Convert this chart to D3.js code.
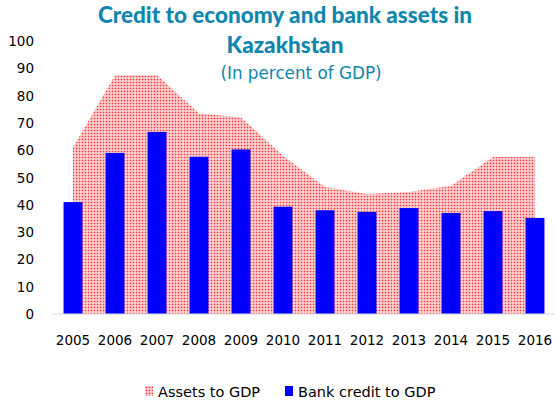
<!DOCTYPE html>
<html lang="en">
<head>
<meta charset="UTF-8">
<title>Credit to economy and bank assets in Kazakhstan</title>
<script src="https://d3js.org/d3.v7.min.js"></script>
<style>
  body { margin: 0; background: #fff; }
  text { font-family: "DejaVu Sans", Verdana, sans-serif; }
</style>
</head>
<body>
<svg width="555" height="404"></svg>
<script>
var years = ["2005","2006","2007","2008","2009","2010","2011","2012","2013","2014","2015","2016"];
var assets = [61, 87.5, 87.5, 73.5, 72, 58, 46.5, 44, 44.7, 47, 57.5, 57.5];
var credit = [41, 59, 66.7, 57.6, 60.3, 39.3, 38, 37.4, 38.8, 37, 37.7, 35.2];
var yTicks = [0,10,20,30,40,50,60,70,80,90,100];

var svg = d3.select("svg");

var x = d3.scaleBand().domain(years).range([52, 556]).paddingInner(0.55).paddingOuter(0.275);
var y = d3.scaleLinear().domain([0, 100]).range([314, 41]);

// dotted pattern for assets area
var defs = svg.append("defs");
var pat = defs.append("pattern")
    .attr("id", "dots")
    .attr("patternUnits", "userSpaceOnUse")
    .attr("width", 3).attr("height", 3);
pat.append("rect").attr("width", 3).attr("height", 3).attr("fill", "#ffdede");
pat.append("rect").attr("x", 0.7).attr("y", 0.7).attr("width", 1.6).attr("height", 1.6).attr("fill", "#ff3333");

var cx = function(d, i) { return x(years[i]) + x.bandwidth() / 2; };

var area = d3.area()
    .x(cx)
    .y0(y(0))
    .y1(function(d) { return y(d); });

svg.append("path")
    .datum(assets)
    .attr("d", area)
    .attr("fill", "url(#dots)");

svg.selectAll(".bar")
    .data(credit)
    .enter()
    .append("rect")
    .attr("class", "bar")
    .attr("x", function(d, i) { return x(years[i]); })
    .attr("y", function(d) { return y(d); })
    .attr("width", x.bandwidth())
    .attr("height", function(d) { return y(0) - y(d); })
    .attr("fill", "#0000ff");

// axis line
svg.append("line")
    .attr("x1", 52).attr("x2", 555)
    .attr("y1", y(0)).attr("y2", y(0))
    .attr("stroke", "#d9d9d9").attr("stroke-width", 1);

// y tick labels
svg.selectAll(".ytick")
    .data(yTicks)
    .enter()
    .append("text")
    .attr("x", 34)
    .attr("y", function(d) { return y(d) + 5; })
    .attr("text-anchor", "end")
    .attr("font-size", 13.5)
    .attr("fill", "#000")
    .text(function(d) { return d; });

// x labels
svg.selectAll(".xtick")
    .data(years)
    .enter()
    .append("text")
    .attr("x", function(d) { return x(d) + x.bandwidth() / 2; })
    .attr("y", 345)
    .attr("text-anchor", "middle")
    .attr("font-size", 13.5)
    .attr("fill", "#000")
    .text(function(d) { return d; });

// titles
var titleFont = "Lato, 'Open Sans', sans-serif";
svg.append("text")
    .attr("x", 285).attr("y", 23)
    .attr("text-anchor", "middle")
    .style("font-family", titleFont)
    .attr("font-size", 22.5).attr("font-weight", 900)
    .attr("fill", "#0e86ad")
    .text("Credit to economy and bank assets in");
svg.append("text")
    .attr("x", 285).attr("y", 53)
    .attr("text-anchor", "middle")
    .style("font-family", titleFont)
    .attr("font-size", 22.5).attr("font-weight", 900)
    .attr("fill", "#0e86ad")
    .text("Kazakhstan");
svg.append("text")
    .attr("x", 301).attr("y", 79)
    .attr("text-anchor", "middle")
    .attr("font-size", 16.8)
    .attr("fill", "#0e86ad")
    .text("(In percent of GDP)");

// legend
var legend = [{label: "Assets to GDP", fill: "url(#dots)", x: 145},
              {label: "Bank credit to GDP", fill: "#0000ff", x: 285}];
var lg = svg.selectAll(".legend")
    .data(legend)
    .enter()
    .append("g")
    .attr("transform", function(d) { return "translate(" + d.x + ",386)"; });
lg.append("rect")
    .attr("width", 8).attr("height", 10)
    .attr("fill", function(d) { return d.fill; });
lg.append("text")
    .attr("x", 13).attr("y", 10.5)
    .attr("font-size", 14.5)
    .attr("fill", "#000")
    .text(function(d) { return d.label; });
</script>
</body>
</html>
